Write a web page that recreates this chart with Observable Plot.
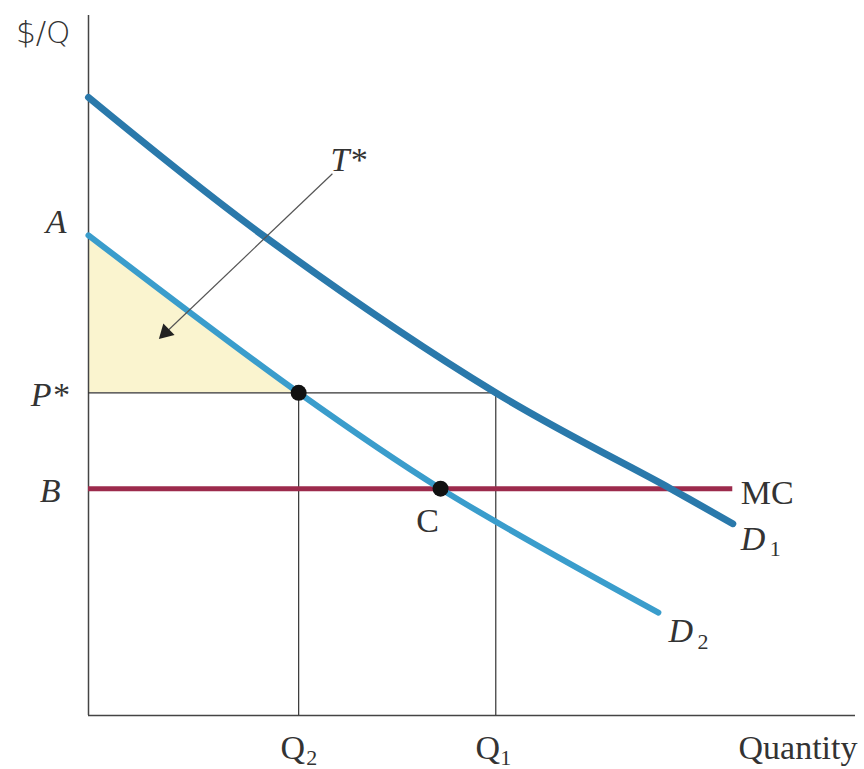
<!DOCTYPE html>
<html>
<head>
<meta charset="utf-8">
<script src="https://cdn.jsdelivr.net/npm/d3@7"></script>
<script src="https://cdn.jsdelivr.net/npm/@observablehq/plot@0.6"></script>
<style>
  html, body { margin: 0; padding: 0; background: #fff; }
  #chart svg { display: block; }
</style>
</head>
<body>
<div id="chart"></div>
<script>
// Key levels (abstract units: quantity 0–100, $/Q 0–100)
const A = 68.6;       // D2 intercept
const Pstar = 46.1;   // P*
const B = 32.4;       // MC level
const Q2 = 27.4;
const Q1 = 53.1;
const Cx = 45.9;      // point C quantity
const mcEnd = 84;

// Demand curves (slightly convex)
const d1X = [0, 23.1, Q1, 75.9, 84.0];
const d1Y = [88.3, 68.3, Pstar, B, 27.4];
const d2X = [0, Q2, Cx, 74.3];
const d2Y = [A, Pstar, B, 14.7];

// T* arrow
const arrowFrom = [31.8, 77.4];
const arrowTo = [9.4, 54.0];

const D1 = d1X.map((x, i) => ({x, y: d1Y[i]}));
const D2 = d2X.map((x, i) => ({x, y: d2Y[i]}));

const serif = "'Liberation Serif', 'DejaVu Serif', serif";
const fs = 34;
const sub = 22;
const ink = "#333";

const chart = Plot.plot({
  width: 864,
  height: 769,
  marginLeft: 88,
  marginRight: 9,
  marginTop: 15,
  marginBottom: 54,
  x: {domain: [0, 100], axis: null},
  y: {domain: [0, 100], axis: null},
  style: {fontFamily: serif, background: "#fff"},
  marks: [
    // consumer surplus triangle
    Plot.areaY([{x: 0, y1: Pstar, y2: A}, {x: Q2, y1: Pstar, y2: Pstar}],
      {x: "x", y1: "y1", y2: "y2", fill: "#faf4cf"}),
    // axes
    Plot.ruleX([0], {y1: 0, y2: 100, stroke: "#444", strokeWidth: 1.5}),
    Plot.ruleY([0], {x1: 0, x2: 100, stroke: "#444", strokeWidth: 1.5}),
    // guide lines
    Plot.ruleY([Pstar], {x1: 0, x2: Q1, stroke: "#333", strokeWidth: 1.2}),
    Plot.ruleX([Q2], {y1: 0, y2: Pstar, stroke: "#333", strokeWidth: 1.2}),
    Plot.ruleX([Q1], {y1: 0, y2: Pstar, stroke: "#333", strokeWidth: 1.2}),
    // MC
    Plot.ruleY([B], {x1: 0, x2: mcEnd, stroke: "#9c2b4c", strokeWidth: 5}),
    // demand curves
    Plot.line(D1, {x: "x", y: "y", curve: "catmull-rom", stroke: "#2a79ab", strokeWidth: 7}),
    Plot.line(D2, {x: "x", y: "y", curve: "catmull-rom", stroke: "#3a9dcc", strokeWidth: 6}),
    // T* arrow
    Plot.link([{x1: arrowFrom[0], y1: arrowFrom[1], x2: arrowTo[0], y2: arrowTo[1]}],
      {x1: "x1", y1: "y1", x2: "x2", y2: "y2", stroke: "#555", strokeWidth: 1.2}),
    Plot.dot([{x: arrowTo[0], y: arrowTo[1]}],
      {x: "x", y: "y", symbol: "triangle", r: 6, rotate: 226, dx: 5, dy: -5, fill: "#222", stroke: "none"}),
    // points
    Plot.dot([{x: Q2, y: Pstar}, {x: Cx, y: B}], {x: "x", y: "y", r: 8, fill: "#111"}),
    // labels
    Plot.text(["$/Q"], {x: 0, y: 100, dx: -18, dy: 18, textAnchor: "end", fontSize: 31, fill: ink, fontFamily: "'DejaVu Sans', sans-serif", fontWeight: 300}),
    Plot.text(["A"], {x: 0, y: A, dx: -22, dy: -13, textAnchor: "end", fontSize: fs, fontStyle: "italic", fill: ink}),
    Plot.text(["P*"], {x: 0, y: Pstar, dx: -20, dy: 2, textAnchor: "end", fontSize: fs, fontStyle: "italic", fill: ink}),
    Plot.text(["B"], {x: 0, y: B, dx: -28, dy: 2, textAnchor: "end", fontSize: fs, fontStyle: "italic", fill: ink}),
    Plot.text(["T*"], {x: arrowFrom[0], y: arrowFrom[1], dx: 16, dy: -14, textAnchor: "middle", fontSize: fs, fontStyle: "italic", fill: ink}),
    Plot.text(["C"], {x: Cx, y: B, dx: -13, dy: 32, textAnchor: "middle", fontSize: fs, fill: ink}),
    Plot.text(["MC"], {x: mcEnd, y: B, dx: 8, dy: 4, textAnchor: "start", fontSize: fs, fill: ink}),
    Plot.text(["D"], {x: d1X[d1X.length - 1], y: d1Y[d1Y.length - 1], dx: 8, dy: 15, textAnchor: "start", fontSize: fs, fontStyle: "italic", fill: ink}),
    Plot.text(["1"], {x: d1X[d1X.length - 1], y: d1Y[d1Y.length - 1], dx: 37, dy: 25, textAnchor: "start", fontSize: sub, fill: ink}),
    Plot.text(["D"], {x: d2X[d2X.length - 1], y: d2Y[d2Y.length - 1], dx: 10, dy: 19, textAnchor: "start", fontSize: fs, fontStyle: "italic", fill: ink}),
    Plot.text(["2"], {x: d2X[d2X.length - 1], y: d2Y[d2Y.length - 1], dx: 39, dy: 29, textAnchor: "start", fontSize: sub, fill: ink}),
    Plot.text(["Q"], {x: Q2, y: 0, dx: -6, dy: 33, textAnchor: "middle", fontSize: fs, fill: ink}),
    Plot.text(["2"], {x: Q2, y: 0, dx: 13, dy: 42, textAnchor: "middle", fontSize: sub, fill: ink}),
    Plot.text(["Q"], {x: Q1, y: 0, dx: -8, dy: 33, textAnchor: "middle", fontSize: fs, fill: ink}),
    Plot.text(["1"], {x: Q1, y: 0, dx: 10, dy: 42, textAnchor: "middle", fontSize: sub, fill: ink}),
    Plot.text(["Quantity"], {x: 100, y: 0, dx: 2, dy: 33, textAnchor: "end", fontSize: fs, fill: ink})
  ]
});

document.getElementById("chart").appendChild(chart);
</script>
</body>
</html>
